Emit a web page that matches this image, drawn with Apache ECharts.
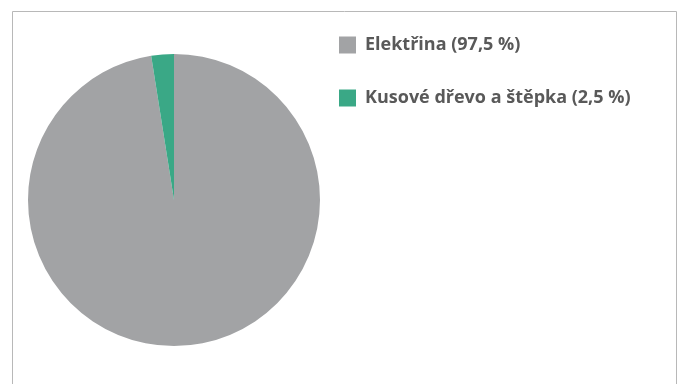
<!DOCTYPE html>
<html>
<head>
<meta charset="utf-8">
<script src="https://cdn.jsdelivr.net/npm/echarts@6/dist/echarts.min.js"></script>
<style>
  html, body { margin: 0; padding: 0; background: #fff; }
  #main { width: 684px; height: 384px; }
</style>
</head>
<body>
<div id="main"></div>
<script>
// údaje z grafu
const categories = ['Elektřina', 'Kusové dřevo a štěpka'];
const shares = [97.5, 2.5];
const colors = ['#a2a3a5', '#3aa886'];

const myChart = echarts.init(document.getElementById('main'));

const pieData = categories.map((name, i) => ({
  name: name,
  value: shares[i],
  itemStyle: { color: colors[i] }
}));

const option = {
  animation: false,
  backgroundColor: '#fff',
  graphic: [{
    type: 'rect',
    shape: { x: 12.5, y: 11.5, width: 664, height: 400 },
    style: { fill: 'none', stroke: '#b8b8b8', lineWidth: 1 },
    silent: true
  }],
  legend: {
    orient: 'vertical',
    left: 334,
    top: 31,
    itemWidth: 17,
    itemHeight: 17,
    itemGap: 35,
    icon: 'rect',
    data: categories,
    formatter: function (name) {
      const i = categories.indexOf(name);
      return name + ' (' + String(shares[i]).replace('.', ',') + ' %)';
    },
    textStyle: {
      color: '#595959',
      fontSize: 18,
      lineHeight: 18,
      fontWeight: 'bold',
      fontFamily: '"Open Sans", sans-serif',
      padding: [0, 0, 0, 4]
    }
  },
  series: [{
    type: 'pie',
    center: [174, 200],
    radius: [0, 146],
    startAngle: 90,
    clockwise: true,
    label: { show: false },
    labelLine: { show: false },
    itemStyle: { borderWidth: 0 },
    data: pieData
  }]
};

myChart.setOption(option);
</script>
</body>
</html>
